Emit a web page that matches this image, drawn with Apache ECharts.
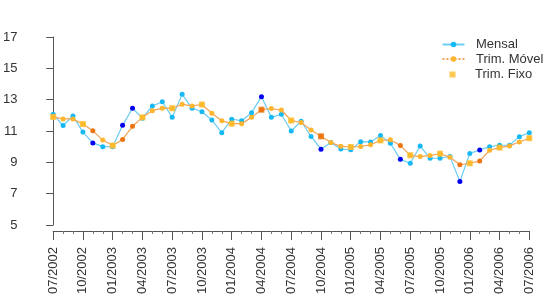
<!DOCTYPE html>
<html>
<head>
<meta charset="utf-8">
<script src="https://cdn.jsdelivr.net/npm/echarts@6/dist/echarts.min.js"></script>
<style>html,body{margin:0;padding:0;background:#fff}#c{width:546px;height:305px}</style>
</head>
<body>
<div id="c"></div>
<script>
// months 07/2002 .. 07/2006 (index 0..48)
var tickLabels = ['07/2002','10/2002','01/2003','04/2003','07/2003','10/2003','01/2004','04/2004','07/2004','10/2004','01/2005','04/2005','07/2005','10/2005','01/2006','04/2006','07/2006'];
var mensal = [12.07, 11.35, 11.96, 10.93, 10.24, 10.0, 10.0, 11.36, 12.45, 11.82, 12.6, 12.87, 11.87, 13.34, 12.45, 12.23, 11.7, 10.89, 11.75, 11.66, 12.17, 13.19, 11.87, 12.07, 11.0, 11.62, 10.65, 9.84, 10.26, 9.85, 9.8, 10.32, 10.3, 10.72, 10.22, 9.19, 8.94, 10.04, 9.26, 9.26, 9.38, 7.78, 9.57, 9.79, 10.0, 10.09, 10.09, 10.64, 10.89];
var trimMovel = [11.9, 11.77, 11.77, 11.44, 11.01, 10.42, 10.07, 10.46, 11.3, 11.87, 12.3, 12.46, 12.45, 12.7, 12.6, 12.69, 12.13, 11.65, 11.47, 11.47, 11.87, 12.36, 12.43, 12.34, 11.67, 11.54, 11.07, 10.66, 10.26, 10.02, 9.98, 10.01, 10.12, 10.4, 10.44, 10.07, 9.45, 9.37, 9.44, 9.55, 9.33, 8.84, 8.94, 9.08, 9.77, 9.94, 10.05, 10.3, 10.54];
// quarterly (fixed quarter) values at the labelled months
var trimFixo = [11.9, 11.44, 10.07, 11.87, 12.45, 12.69, 11.47, 12.36, 11.67, 10.66, 9.98, 10.4, 9.45, 9.55, 8.94, 9.94, 10.54];
// months whose markers are highlighted (darker)
var highlight = [4, 7, 8, 21, 27, 35, 41, 43];

var C_BLUE = '#16B9F4', C_BLUE_LINE = '#6ACDF4', C_DBLUE = '#0000F0';
var C_OR = '#FFB52E', C_OR_LINE = '#F4A457', C_DOR = '#EE7410', C_FIXO = '#FFBC2A';

function mk(arr, dark, normal) {
  return arr.map(function (v, i) {
    var h = highlight.indexOf(i) >= 0;
    return { value: [i, v], itemStyle: { color: h ? dark : normal } };
  });
}
var fixoData = trimFixo.map(function (v, k) {
  var i = k * 3;
  return { value: [i, v], itemStyle: { color: highlight.indexOf(i) >= 0 ? C_DOR : C_FIXO } };
});

var font = 'Liberation Sans, Arial, sans-serif';
var txt = '#333';
var chart = echarts.init(document.getElementById('c'), null, { renderer: 'canvas' });
chart.setOption({
  animation: false,
  backgroundColor: '#fff',
  grid: { left: 52.7, right: 16.7, top: 37, bottom: 80, containLabel: false },
  xAxis: {
    type: 'value', min: 0, max: 48, interval: 3, offset: 6,
    axisLine: { show: true, lineStyle: { color: '#555', width: 1 } },
    axisTick: { show: true, length: 9, lineStyle: { color: '#555' } },
    minorTick: { show: true, splitNumber: 3, length: 3, lineStyle: { color: '#777' } },
    splitLine: { show: false }, minorSplitLine: { show: false },
    axisLabel: {
      rotate: 90, margin: 16, fontSize: 13, fontFamily: font, color: txt,
      formatter: function (v) { return tickLabels[Math.round(v / 3)]; }
    }
  },
  yAxis: {
    type: 'value', min: 5, max: 17, interval: 2, offset: 20.7,
    axisLine: { show: true, lineStyle: { color: '#555', width: 1 } },
    axisTick: { show: true, length: 7, lineStyle: { color: '#555' } },
    splitLine: { show: false },
    axisLabel: { margin: 15, fontSize: 13, fontFamily: font, color: txt }
  },
  legend: [
    { left: 441.5, top: 38, padding: 0, itemWidth: 22, itemHeight: 7, itemGap: 0,
      data: ['Mensal'], textStyle: { fontSize: 13, fontFamily: font, color: txt, padding: [0, 0, 0, 6.5] } },
    { left: 441.5, top: 52.5, padding: 0, itemWidth: 22, itemHeight: 7, itemGap: 0,
      data: [{ name: 'Trim. Móvel' }], lineStyle: { type: 'dotted' },
      textStyle: { fontSize: 13, fontFamily: font, color: txt, padding: [0, 0, 0, 6.5] } },
    { left: 449.5, top: 68, padding: 0, itemWidth: 6, itemHeight: 6, itemGap: 0,
      data: [{ name: 'Trim. Fixo', icon: 'rect' }],
      textStyle: { fontSize: 13, fontFamily: font, color: txt, padding: [0, 0, 0, 14.5] } }
  ],
  series: [
    { name: 'Mensal', type: 'line', data: mk(mensal, C_DBLUE, C_BLUE), z: 2,
      symbol: 'circle', symbolSize: 5, showAllSymbol: true,
      lineStyle: { color: C_BLUE_LINE, width: 1.2 }, itemStyle: { color: C_BLUE } },
    { name: 'Trim. Móvel', type: 'line', data: mk(trimMovel, C_DOR, C_OR), z: 3,
      symbol: 'circle', symbolSize: 5, showAllSymbol: true,
      lineStyle: { color: C_OR_LINE, width: 1.2 }, itemStyle: { color: C_OR } },
    { name: 'Trim. Fixo', type: 'scatter', data: fixoData, z: 4,
      symbol: 'rect', symbolSize: 6, itemStyle: { color: C_FIXO } }
  ]
});
</script>
</body>
</html>
